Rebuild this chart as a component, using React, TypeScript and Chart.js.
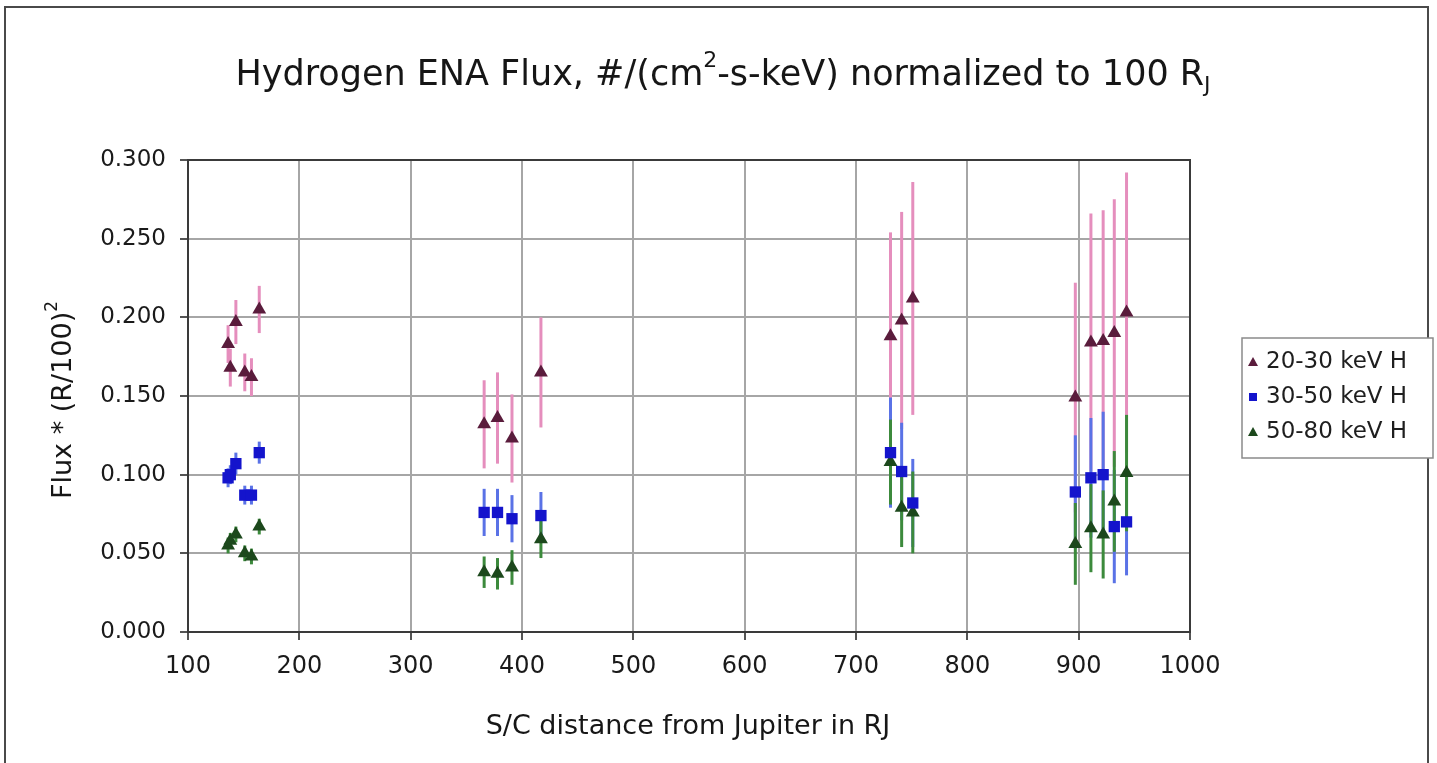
import { useEffect, useRef } from "react";
import { Chart, registerables } from "chart.js";

Chart.register(...registerables);

const FONT = '"DejaVu Sans", Verdana, sans-serif';

// Spacecraft distance from Jupiter (RJ) for each measurement
const distance = [
  136, 138, 143, 151, 157, 164,
  366, 378, 391, 417,
  731, 741, 751,
  897, 911, 922, 932, 943,
];

// 20-30 keV H flux, normalized to 100 RJ
const flux2030 = [
  0.183, 0.168, 0.197, 0.165, 0.162, 0.205,
  0.132, 0.136, 0.123, 0.165,
  0.188, 0.198, 0.212,
  0.149, 0.184, 0.185, 0.19, 0.203,
];
const err2030 = [
  0.012, 0.012, 0.014, 0.012, 0.012, 0.015,
  0.028, 0.029, 0.028, 0.035,
  0.066, 0.069, 0.074,
  0.073, 0.082, 0.083, 0.085, 0.089,
];

// 30-50 keV H flux
const flux3050 = [
  0.098, 0.1, 0.107, 0.087, 0.087, 0.114,
  0.076, 0.076, 0.072, 0.074,
  0.114, 0.102, 0.082,
  0.089, 0.098, 0.1, 0.067, 0.07,
];
const err3050 = [
  0.006, 0.006, 0.007, 0.006, 0.006, 0.007,
  0.015, 0.015, 0.015, 0.015,
  0.035, 0.031, 0.028,
  0.036, 0.038, 0.04, 0.036, 0.034,
];

// 50-80 keV H flux
const flux5080 = [
  0.055, 0.058, 0.062, 0.05, 0.048, 0.067,
  0.038, 0.037, 0.041, 0.059,
  0.108, 0.079, 0.076,
  0.056, 0.066, 0.062, 0.083, 0.101,
];
const err5080 = [
  0.005, 0.005, 0.005, 0.005, 0.005, 0.005,
  0.01, 0.01, 0.011, 0.012,
  0.027, 0.025, 0.026,
  0.026, 0.028, 0.028, 0.032, 0.037,
];

const seriesLabels = ["20-30 keV H", "30-50 keV H", "50-80 keV H"];

const xMin = 100;
const xMax = 1000;
const xStep = 100;
const yMin = 0;
const yMax = 0.3;
const yStep = 0.05;

type Series = {
  label: string;
  y: number[];
  err: number[];
  style: "triangle" | "rect";
  radius: number;
  marker: string;
  bar: string;
};

const series: Series[] = [
  { label: seriesLabels[0], y: flux2030, err: err2030, style: "triangle", radius: 8, marker: "#5a1c3c", bar: "#e58ebd" },
  { label: seriesLabels[1], y: flux3050, err: err3050, style: "rect", radius: 8, marker: "#1414cc", bar: "#5a72e6" },
  { label: seriesLabels[2], y: flux5080, err: err5080, style: "triangle", radius: 8, marker: "#1c481c", bar: "#3c8a3c" },
];

type Piece = { text: string; mode?: "sup" | "sub" };

function drawRich(
  ctx: CanvasRenderingContext2D,
  pieces: Piece[],
  size: number,
  cx: number,
  cy: number
) {
  const small = Math.round(size * 0.62);
  const widths = pieces.map((p) => {
    ctx.font = `${p.mode ? small : size}px ${FONT}`;
    return ctx.measureText(p.text).width;
  });
  const total = widths.reduce((a, b) => a + b, 0);
  let x = cx - total / 2;
  ctx.textBaseline = "middle";
  ctx.textAlign = "left";
  pieces.forEach((p, i) => {
    ctx.font = `${p.mode ? small : size}px ${FONT}`;
    let dy = 0;
    if (p.mode === "sup") dy = -size * 0.42;
    if (p.mode === "sub") dy = size * 0.3;
    ctx.fillText(p.text, x, cy + dy);
    x += widths[i];
  });
}

const errorBars = {
  id: "errorBars",
  beforeDatasetsDraw(chart: any) {
    const { ctx } = chart;
    const xs = chart.scales.x;
    const ys = chart.scales.y;
    ctx.save();
    chart.data.datasets.forEach((ds: any) => {
      ctx.strokeStyle = ds.errorColor;
      ctx.lineWidth = 3;
      ds.data.forEach((pt: any, i: number) => {
        const e = ds.errors[i];
        const px = xs.getPixelForValue(pt.x);
        ctx.beginPath();
        ctx.moveTo(px, ys.getPixelForValue(pt.y - e));
        ctx.lineTo(px, ys.getPixelForValue(pt.y + e));
        ctx.stroke();
      });
    });
    ctx.restore();
  },
};

function marker(ctx: CanvasRenderingContext2D, style: string, x: number, y: number, r: number) {
  ctx.beginPath();
  if (style === "rect") {
    ctx.rect(x - r, y - r, 2 * r, 2 * r);
  } else {
    ctx.moveTo(x, y - r);
    ctx.lineTo(x + r, y + r * 0.8);
    ctx.lineTo(x - r, y + r * 0.8);
    ctx.closePath();
  }
  ctx.fill();
}

const decorations = {
  id: "decorations",
  afterDraw(chart: any) {
    const { ctx, chartArea } = chart;
    ctx.save();

    // outer frame
    ctx.strokeStyle = "#4a4a4a";
    ctx.lineWidth = 2;
    ctx.strokeRect(5, 7, 1423, 770);

    // plot frame
    ctx.strokeStyle = "#3a3a3a";
    ctx.lineWidth = 2;
    ctx.strokeRect(
      chartArea.left,
      chartArea.top,
      chartArea.right - chartArea.left,
      chartArea.bottom - chartArea.top
    );

    ctx.fillStyle = "#161616";
    // title
    drawRich(
      ctx,
      [
        { text: "Hydrogen ENA Flux, #/(cm" },
        { text: "2", mode: "sup" },
        { text: "-s-keV) normalized to 100 R" },
        { text: "J", mode: "sub" },
      ],
      35,
      723,
      76
    );

    // x axis title
    drawRich(ctx, [{ text: "S/C distance from Jupiter in RJ" }], 27, 688, 727);

    // y axis title
    ctx.save();
    ctx.translate(64, 400);
    ctx.rotate(-Math.PI / 2);
    drawRich(ctx, [{ text: "Flux * (R/100)" }, { text: "2", mode: "sup" }], 27, 0, 0);
    ctx.restore();

    // legend
    const lx = 1242;
    const ly = 338;
    ctx.fillStyle = "#ffffff";
    ctx.fillRect(lx, ly, 191, 120);
    ctx.strokeStyle = "#8a8a8a";
    ctx.lineWidth = 1.5;
    ctx.strokeRect(lx, ly, 191, 120);
    chart.data.datasets.forEach((ds: any, i: number) => {
      const cy = ly + 24 + i * 35;
      ctx.fillStyle = ds.backgroundColor;
      marker(ctx, ds.pointStyle, lx + 11, cy, ds.pointStyle === "rect" ? 4 : 5);
      ctx.fillStyle = "#1e1e1e";
      ctx.font = `23px ${FONT}`;
      ctx.textAlign = "left";
      ctx.textBaseline = "middle";
      ctx.fillText(ds.label, lx + 24, cy);
    });

    ctx.restore();
  },
};

export default function App() {
  const ref = useRef<HTMLCanvasElement>(null);

  useEffect(() => {
    document.body.style.margin = "0";
    const chart = new Chart(ref.current as HTMLCanvasElement, {
      type: "scatter",
      data: {
        datasets: series.map((s) => ({
          label: s.label,
          data: distance.map((x, i) => ({ x, y: s.y[i] })),
          pointStyle: s.style,
          pointRadius: s.radius,
          pointHoverRadius: s.radius,
          backgroundColor: s.marker,
          borderColor: s.marker,
          borderWidth: 0,
          errors: s.err,
          errorColor: s.bar,
        })) as any,
      },
      options: {
        responsive: false,
        animation: false,
        events: [],
        layout: { padding: { left: 0, top: 160, right: 247, bottom: 51 } },
        plugins: {
          legend: { display: false },
          title: { display: false },
          tooltip: { enabled: false },
        },
        scales: {
          x: {
            type: "linear",
            min: xMin,
            max: xMax,
            afterFit: (scale: any) => {
              scale.height = 80;
            },
            ticks: {
              stepSize: xStep,
              color: "#1a1a1a",
              padding: 12,
              font: { family: FONT, size: 24 },
              maxRotation: 0,
              callback: (v: any) => String(v),
            },
            grid: {
              color: "#a6a6a6",
              lineWidth: 2,
              tickColor: "#555",
              tickLength: 8,
            },
            border: { color: "#333", width: 2 },
          },
          y: {
            type: "linear",
            min: yMin,
            max: yMax,
            afterFit: (scale: any) => {
              scale.width = 188;
            },
            ticks: {
              stepSize: yStep,
              color: "#1a1a1a",
              padding: 14,
              font: { family: FONT, size: 23 },
              callback: (v: any) => Number(v).toFixed(3),
            },
            grid: {
              color: "#a6a6a6",
              lineWidth: 2,
              tickColor: "#555",
              tickLength: 8,
            },
            border: { color: "#333", width: 2 },
          },
        },
      },
      plugins: [errorBars, decorations],
    });
    return () => chart.destroy();
  }, []);

  return (
    <div style={{ width: 1437, height: 763, background: "#fff" }}>
      <canvas ref={ref} width={1437} height={763} style={{ display: "block" }} />
    </div>
  );
}
